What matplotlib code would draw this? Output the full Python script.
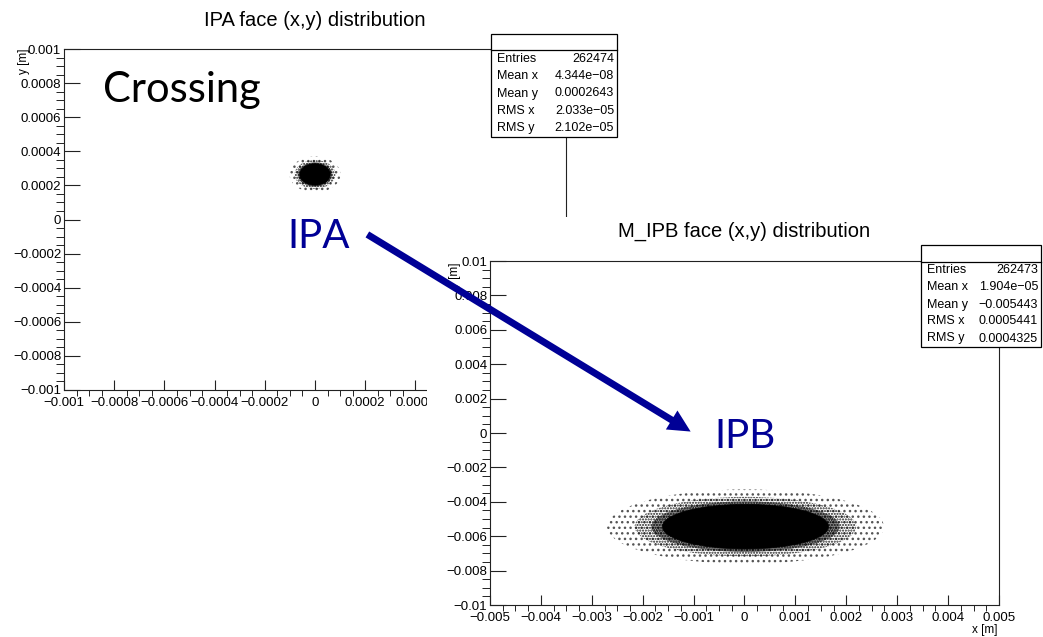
import numpy as np
import matplotlib.pyplot as plt
from matplotlib.patches import Ellipse, Rectangle, FancyArrowPatch

plt.rcParams['font.family'] = ['Liberation Sans', 'DejaVu Sans']
plt.rcParams['axes.unicode_minus'] = True

W, H = 1043, 637

# beam spot statistics at the two faces
ipa_entries = 262474
ipa_mean = [4.344e-08, 0.0002643]
ipa_rms = [2.033e-05, 2.102e-05]

ipb_entries = 262473
ipb_mean = [1.904e-05, -0.005443]
ipb_rms = [0.0005441, 0.0004325]

# axis ticks and labels
ipa_ticks = [-0.001, -0.0008, -0.0006, -0.0004, -0.0002, 0, 0.0002, 0.0004, 0.0006, 0.0008, 0.001]
ipa_labels = ['−0.001', '−0.0008', '−0.0006', '−0.0004', '−0.0002', '0',
              '0.0002', '0.0004', '0.0006', '0.0008', '0.001']
ipb_xticks = [-0.005, -0.004, -0.003, -0.002, -0.001, 0, 0.001, 0.002, 0.003, 0.004, 0.005]
ipb_xlabels = ['−0.005', '−0.004', '−0.003', '−0.002', '−0.001', '0',
               '0.001', '0.002', '0.003', '0.004', '0.005']
ipb_yticks = [-0.01, -0.008, -0.006, -0.004, -0.002, 0, 0.002, 0.004, 0.006, 0.008, 0.01]
ipb_ylabels = ['−0.01', '−0.008', '−0.006', '−0.004', '−0.002', '0',
               '0.002', '0.004', '0.006', '0.008', '0.01']

NAVY = '#000096'


def rect(x0, y0, x1, y1):
    # pixel box (top-left origin) -> figure fraction
    return [x0 / W, 1 - y1 / H, (x1 - x0) / W, (y1 - y0) / H]


def ftext(x, y, s, **kw):
    kw.setdefault('zorder', 6)
    return fig.text(x / W, 1 - y / H, s, **kw)


def style_axes(ax, ticks_x, labels_x, ticks_y, labels_y, minor_x, minor_y):
    ax.set_xlim(ticks_x[0], ticks_x[-1])
    ax.set_ylim(ticks_y[0], ticks_y[-1])
    ax.set_xticks(ticks_x)
    ax.set_xticklabels(labels_x)
    ax.set_yticks(ticks_y)
    ax.set_yticklabels(labels_y)
    ax.set_xticks(np.arange(ticks_x[0], ticks_x[-1] + minor_x / 2, minor_x), minor=True)
    ax.set_yticks(np.arange(ticks_y[0], ticks_y[-1] + minor_y / 2, minor_y), minor=True)
    ax.tick_params(direction='in', labelsize=9.5, width=0.8, color='#222222')
    ax.tick_params(axis='x', which='major', length=7.5, pad=5)
    ax.tick_params(axis='x', which='minor', length=4)
    ax.tick_params(axis='y', which='major', length=11.5, pad=2)
    ax.tick_params(axis='y', which='minor', length=5.8)
    for sp in ax.spines.values():
        sp.set_linewidth(0.8)
        sp.set_color('#222222')


def draw_spot(ax, mean, rms):
    # sparse halo, denser shoulder and saturated core of the spot
    for nsig, hatch, col in [(5.0, '...', '#555555'), (4.0, '......', '#222222'),
                             (3.4, '.........', 'black')]:
        ax.add_patch(Ellipse((mean[0], mean[1]), 2 * nsig * rms[0], 2 * nsig * rms[1],
                             facecolor='none', edgecolor=col, linewidth=0,
                             hatch=hatch))
    ax.add_patch(Ellipse((mean[0], mean[1]), 2 * 3.0 * rms[0], 2 * 3.0 * rms[1],
                         facecolor='black', edgecolor='black', linewidth=0.5))


def stats_box(x0, y0, x1, y1, ysep, entries, mean, rms, z):
    fig.patches.append(Rectangle((x0 / W, 1 - y1 / H), (x1 - x0) / W, (y1 - y0) / H,
                                 transform=fig.transFigure, facecolor='white',
                                 edgecolor='black', linewidth=0.9, zorder=z))
    fig.lines.append(plt.Line2D([x0 / W, x1 / W], [1 - ysep / H] * 2,
                                transform=fig.transFigure, color='black',
                                linewidth=0.9, zorder=z + 0.1))
    names = ['Entries', 'Mean x', 'Mean y', 'RMS x', 'RMS y']
    vals = [str(entries)] + ['%.4g' % v for v in mean] + ['%.4g' % v for v in rms]
    step = (y1 - ysep) / 5
    for i, (n, v) in enumerate(zip(names, vals)):
        yc = ysep + step * (i + 0.5)
        ftext(x0 + 6, yc, n, ha='left', va='center', fontsize=9, zorder=z + 0.2)
        ftext(x1 - 3, yc, v.replace('-', '−'), ha='right', va='center', fontsize=9,
              zorder=z + 0.2)


fig = plt.figure(figsize=(W / 100, H / 100), dpi=100)
fig.patch.set_facecolor('white')

# IPA face
ax1 = fig.add_axes(rect(64, 49, 566, 390), zorder=1)
style_axes(ax1, ipa_ticks, ipa_labels, ipa_ticks, ipa_labels, 0.00005, 0.00005)
draw_spot(ax1, ipa_mean, ipa_rms)
ftext(315, 20, 'IPA face (x,y) distribution', ha='center', va='center', fontsize=14.5)
ftext(24, 49, 'y [m]', rotation=90, ha='center', va='top', fontsize=8.5)
stats_box(491, 34, 617, 137, 50, ipa_entries, ipa_mean, ipa_rms, 2)

# white canvas of the second histogram sitting over the first one
fig.patches.append(Rectangle((427 / W, 0), 1 - 427 / W, 1 - 217 / H,
                             transform=fig.transFigure, facecolor='white',
                             edgecolor='none', zorder=4.5))

# M_IPB face
ax2 = fig.add_axes(rect(490, 261, 999, 605), zorder=5)
style_axes(ax2, ipb_xticks, ipb_xlabels, ipb_yticks, ipb_ylabels, 0.00025, 0.0005)
draw_spot(ax2, ipb_mean, ipb_rms)
ftext(744, 231, 'M_IPB face (x,y) distribution', ha='center', va='center', fontsize=14.5)
ftext(455, 263, 'y [m]', rotation=90, ha='center', va='top', fontsize=8.5)
ftext(997, 630, 'x [m]', ha='right', va='center', fontsize=8.5)
stats_box(921, 245, 1041, 347, 262, ipb_entries, ipb_mean, ipb_rms, 6)

# annotations
ftext(103, 102, 'Crossing', ha='left', va='baseline', fontsize=30, family='Lato', zorder=8)
ftext(287, 248, 'IPA', ha='left', va='baseline', fontsize=29, family='Lato', color=NAVY, zorder=8)
ftext(714, 448, 'IPB', ha='left', va='baseline', fontsize=29, family='Lato', color=NAVY, zorder=8)
arrow = FancyArrowPatch((365 / W, 1 - 233 / H), (693 / W, 1 - 433 / H),
                        transform=fig.transFigure,
                        arrowstyle='simple,head_length=16,head_width=16,tail_width=5',
                        mutation_scale=1, color=NAVY, linewidth=0, zorder=8)
fig.patches.append(arrow)

fig.savefig('out.png', dpi=100)
